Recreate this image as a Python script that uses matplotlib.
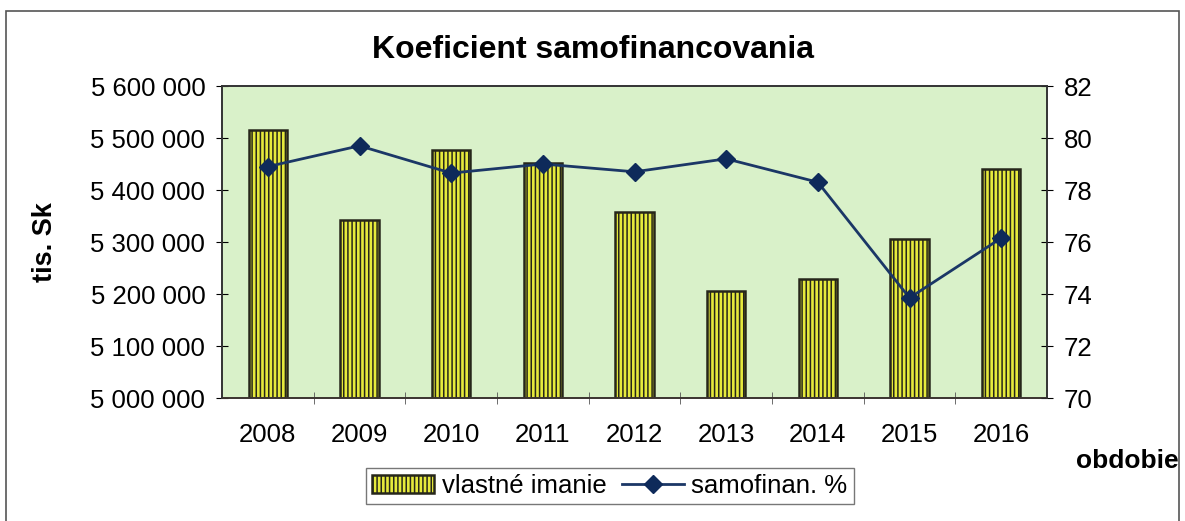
import matplotlib.pyplot as plt
import matplotlib.ticker as mticker
from matplotlib.patches import Rectangle

years = ["2008", "2009", "2010", "2011", "2012", "2013", "2014", "2015", "2016"]
equity = [5515000, 5342000, 5477000, 5452000, 5358000, 5206000, 5229000, 5306000, 5440000]
ratio = [78.9, 79.7, 78.65, 79.0, 78.7, 79.2, 78.3, 73.85, 76.15]

plt.rcParams["font.family"] = ["Liberation Sans", "DejaVu Sans"]
plt.rcParams["hatch.color"] = "#3a3a14"
plt.rcParams["hatch.linewidth"] = 1.1

fig = plt.figure(figsize=(11.85, 5.21), dpi=100)
ax = fig.add_axes([222 / 1185, 1 - 398 / 521, (1047 - 222) / 1185, (398 - 86) / 521])
ax.set_facecolor("#d9f1c9")

x = range(len(years))
ax.bar(x, equity, width=0.42, color="#e6ea3c", edgecolor="#26261a", linewidth=1.8,
       hatch="||||", label="vlastné imanie", zorder=2)
ax.set_ylim(5000000, 5600000)
ax.set_xlim(-0.5, len(years) - 0.5)
ax.yaxis.set_major_locator(mticker.MultipleLocator(100000))
ax.yaxis.set_major_formatter(mticker.FuncFormatter(lambda v, p: f"{int(v):,}".replace(",", " ")))
ax.set_xticks(list(x))
ax.set_xticklabels(years)
ax.set_xticks([i + 0.5 for i in range(len(years) - 1)], minor=True)
ax.tick_params(axis="x", which="major", length=0, labelsize=18.5, pad=18)
ax.tick_params(axis="x", which="minor", length=8, direction="inout", color="#555555")
ax.tick_params(axis="y", labelsize=18.5, length=8, direction="inout", pad=8)

ax2 = ax.twinx()
ax2.plot(x, ratio, color="#1b3766", linewidth=2, marker="D", markersize=9,
         markerfacecolor="#0e2a5a", markeredgecolor="#0e2a5a", label="samofinan. %", zorder=3)
ax2.set_ylim(70, 82)
ax2.yaxis.set_major_locator(mticker.MultipleLocator(2))
ax2.tick_params(axis="y", labelsize=18.5, length=8, direction="inout", pad=8)

for a in (ax, ax2):
    for s in a.spines.values():
        s.set_color("#333333")
        s.set_linewidth(1.2)
ax.spines["bottom"].set_color("#6b3a1a")

fig.text(0.5, 1 - 50 / 521, "Koeficient samofinancovania", ha="center", va="center",
         fontsize=23, fontweight="bold")
fig.text(45 / 1185, 1 - 242 / 521, "tis. Sk", ha="center", va="center", rotation=90,
         fontsize=19.5, fontweight="bold")
fig.text(1127 / 1185, 1 - 461 / 521, "obdobie", ha="center", va="center",
         fontsize=19, fontweight="bold")

h1, l1 = ax.get_legend_handles_labels()
h2, l2 = ax2.get_legend_handles_labels()
fig.legend(h1 + h2, l1 + l2, loc="center", bbox_to_anchor=(610 / 1185, 1 - 486 / 521),
           ncol=2, fontsize=18.5, frameon=True, fancybox=False, edgecolor="#555555",
           handlelength=2.4, columnspacing=0.6, handletextpad=0.3, borderpad=0.25)

fig.patches.append(Rectangle((6 / 1185, -0.1), 1 - 12 / 1185, 1.1 - 11 / 521, transform=fig.transFigure,
                             fill=False, edgecolor="#555555", linewidth=1.2))

fig.savefig("out.png", dpi=100)
